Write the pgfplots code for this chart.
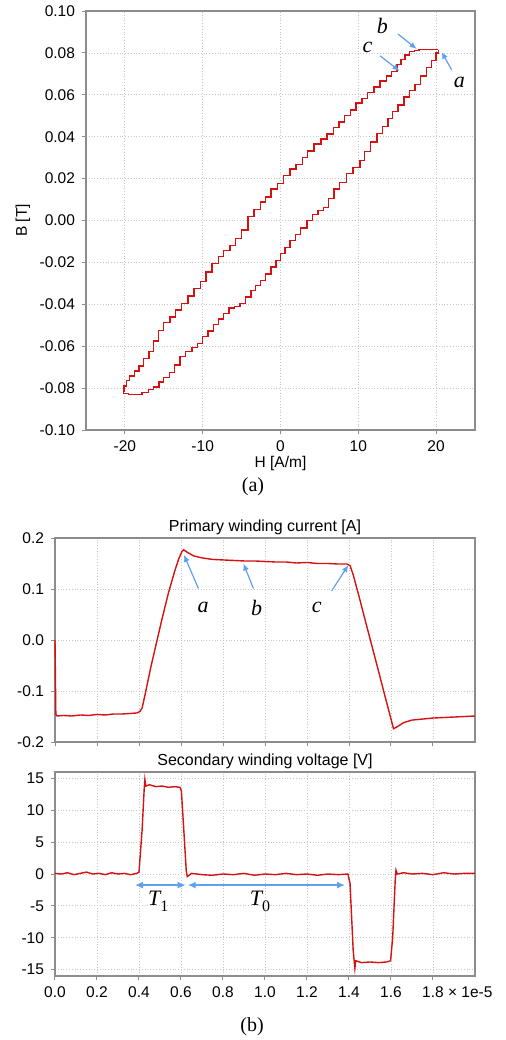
\documentclass[border=0pt]{standalone}
\usepackage{pgfplots}
\pgfplotsset{compat=1.18}
\usepackage{fontspec}
\setmainfont{Liberation Sans}
\newfontfamily\serif{Liberation Serif}
\usetikzlibrary{arrows.meta}

\definecolor{trace}{RGB}{212,18,18}
\definecolor{note}{RGB}{95,160,240}
\definecolor{frame}{RGB}{140,140,140}

\pgfplotsset{
  scopestyle/.style={
    scale only axis,
    axis line style={frame, line width=0.6pt},
    grid=major,
    grid style={densely dotted, gray!45, line width=0.4pt},
    tick style={frame, line width=0.5pt},
    tick align=outside, major tick length=2pt,
    xtick pos=bottom, ytick pos=left,
    tick label style={font=\fontsize{7.75}{9}\selectfont},
    every axis title/.style={at={(0.5,1)}, anchor=center, yshift=5.5pt,
      font=\fontsize{8}{9.5}\selectfont},
  },
}
\tikzset{lbl/.style={font=\serif\itshape\fontsize{11}{12}\selectfont}}

\begin{document}
\begin{tikzpicture}
\useasboundingbox (0,0) rectangle (252.5pt,-520pt);

% (a) B-H loop
\begin{axis}[scopestyle,
  at={(43pt,-5.5pt)}, anchor=north west,
  width=194.5pt, height=209.5pt,
  xmin=-25, xmax=25, ymin=-0.1, ymax=0.1,
  xtick={-20,-10,0,10,20}, xticklabels={-20,-10,0,10,20},
  ytick={-0.1,-0.08,-0.06,-0.04,-0.02,0,0.02,0.04,0.06,0.08,0.1},
  yticklabels={-0.10,-0.08,-0.06,-0.04,-0.02,0.00,0.02,0.04,0.06,0.08,0.10},
  xlabel={H [A/m]}, ylabel={B [T]},
  every axis x label/.style={at={(axis description cs:0.5,-0.079)}, anchor=center,
    font=\fontsize{7.75}{9}\selectfont},
  every axis y label/.style={at={(axis description cs:-0.162,0.5)}, anchor=center,
    rotate=90, font=\fontsize{7.75}{9}\selectfont},
  clip=false]
\addplot[trace, line width=0.7pt, const plot] table {
H B
20.3 0.0815
19.5 0.0816
18.6 0.0815
17.8 0.0812
17.2 0.0806
16.6 0.0790
16.0 0.0768
15.5 0.0745
15.0 0.0712
14.3 0.0690
13.6 0.0665
12.8 0.0638
12.0 0.0610
11.2 0.0582
10.5 0.0560
9.7 0.0528
9.0 0.0502
8.2 0.0470
7.5 0.0445
6.8 0.0412
6.0 0.0390
5.2 0.0365
4.3 0.0332
3.5 0.0300
2.8 0.0268
2.0 0.0245
1.2 0.0215
0.4 0.0178
-0.4 0.0150
-1.2 0.0112
-1.9 0.0088
-2.6 0.0052
-3.4 0.0018
-4.2 -0.0045
-5.0 -0.0085
-5.8 -0.0118
-6.5 -0.0142
-7.3 -0.0172
-8.0 -0.0205
-8.8 -0.0245
-9.6 -0.0290
-10.3 -0.0325
-11.1 -0.0360
-11.9 -0.0395
-12.7 -0.0428
-13.5 -0.0460
-14.2 -0.0488
-15.0 -0.0525
-15.7 -0.0575
-16.3 -0.0625
-16.9 -0.0660
-17.6 -0.0695
-18.2 -0.0718
-18.8 -0.0742
-19.4 -0.0765
-19.8 -0.0790
-20.1 -0.0815
-20.2 -0.0826
-19.5 -0.0830
-18.6 -0.0830
-17.8 -0.0822
-17.0 -0.0808
-16.3 -0.0795
-15.6 -0.0770
-15.0 -0.0748
-14.3 -0.0725
-13.6 -0.0690
-12.9 -0.0650
-12.2 -0.0625
-11.4 -0.0605
-10.7 -0.0586
-10.0 -0.0555
-9.3 -0.0528
-8.6 -0.0495
-8.0 -0.0470
-7.3 -0.0445
-6.6 -0.0418
-5.9 -0.0410
-5.2 -0.0395
-4.5 -0.0365
-3.8 -0.0335
-3.2 -0.0310
-2.6 -0.0286
-1.9 -0.0255
-1.2 -0.0222
-0.6 -0.0190
0.0 -0.0157
0.6 -0.0128
1.2 -0.0095
1.9 -0.0068
2.6 -0.0035
3.4 0.0000
4.1 0.0028
4.8 0.0048
5.5 0.0062
6.2 0.0105
6.9 0.0150
7.6 0.0180
8.5 0.0224
9.3 0.0252
10.2 0.0286
10.8 0.0330
11.6 0.0375
12.4 0.0414
13.1 0.0450
13.8 0.0488
14.4 0.0520
15.1 0.0552
15.9 0.0590
16.6 0.0620
17.3 0.0650
18.0 0.0690
18.8 0.0730
19.4 0.0765
20.0 0.0800
20.3 0.0815
};
\draw[note, line width=0.6pt, -{Latex[length=3.5pt,width=3pt]}] (axis cs:15.1,0.089) -- (axis cs:17.5,0.0819);
\draw[note, line width=0.6pt, -{Latex[length=3.5pt,width=3pt]}] (axis cs:12.8,0.0786) -- (axis cs:15.3,0.0714);
\draw[note, line width=0.6pt, -{Latex[length=3.5pt,width=3pt]}] (axis cs:22.0,0.0719) -- (axis cs:20.7,0.0805);
\node[lbl] at (axis cs:13.1,0.0929) {b};
\node[lbl] at (axis cs:11.2,0.0824) {c};
\node[lbl] at (axis cs:23.0,0.0657) {a};
\end{axis}
\node[font=\serif\fontsize{10}{12}\selectfont] at (126.5pt,-243.5pt) {(a)};

% (b) primary winding current
\begin{axis}[scopestyle,
  at={(27.5pt,-269pt)}, anchor=north west,
  width=210pt, height=102pt,
  xmin=0, xmax=2, ymin=-0.2, ymax=0.2,
  xtick={0,0.2,0.4,0.6,0.8,1.0,1.2,1.4,1.6,1.8}, xticklabels={},
  ytick={-0.2,-0.1,0,0.1,0.2},
  yticklabels={-0.2,-0.1,0.0,0.1,0.2},
  title={Primary winding current [A]},
  clip=false]
\addplot[trace, line width=0.7pt] table {
t I
0.000 0.000
0.004 -0.146
0.010 -0.149
0.04 -0.148
0.08 -0.149
0.12 -0.147
0.16 -0.148
0.20 -0.146
0.24 -0.147
0.28 -0.145
0.32 -0.145
0.36 -0.144
0.39 -0.143
0.405 -0.140
0.415 -0.133
0.43 -0.105
0.457 -0.052
0.484 -0.004
0.51 0.042
0.54 0.092
0.57 0.135
0.59 0.160
0.605 0.174
0.612 0.177
0.63 0.172
0.66 0.165
0.70 0.161
0.75 0.158
0.80 0.157
0.85 0.156
0.90 0.155
0.95 0.155
1.00 0.154
1.05 0.153
1.10 0.153
1.15 0.151
1.20 0.152
1.25 0.150
1.30 0.150
1.35 0.149
1.39 0.149
1.405 0.146
1.42 0.128
1.45 0.082
1.48 0.034
1.51 -0.013
1.54 -0.060
1.57 -0.108
1.60 -0.155
1.612 -0.174
1.63 -0.170
1.66 -0.162
1.70 -0.157
1.75 -0.155
1.80 -0.153
1.85 -0.152
1.90 -0.151
1.95 -0.150
2.00 -0.149
};
\draw[note, line width=0.6pt, -{Latex[length=3.5pt,width=3pt]}] (axis cs:0.683,0.101) -- (axis cs:0.614,0.167);
\draw[note, line width=0.6pt, -{Latex[length=3.5pt,width=3pt]}] (axis cs:0.945,0.101) -- (axis cs:0.897,0.150);
\draw[note, line width=0.6pt, -{Latex[length=3.5pt,width=3pt]}] (axis cs:1.317,0.096) -- (axis cs:1.397,0.147);
\node[lbl] at (axis cs:0.705,0.063) {a};
\node[lbl] at (axis cs:0.96,0.063) {b};
\node[lbl] at (axis cs:1.246,0.063) {c};
\end{axis}

% (b) secondary winding voltage
\begin{axis}[scopestyle,
  at={(27.5pt,-386pt)}, anchor=north west,
  width=210pt, height=102pt,
  xmin=0, xmax=2, ymin=-16, ymax=16,
  xtick={0,0.2,0.4,0.6,0.8,1.0,1.2,1.4,1.6,1.8},
  xticklabels={0.0,0.2,0.4,0.6,0.8,1.0,1.2,1.4,1.6,{1.8\rlap{ × 1e-5}}},
  ytick={-15,-10,-5,0,5,10,15},
  yticklabels={-15,-10,-5,0,5,10,15},
  title={Secondary winding voltage [V]},
  clip=false]
\addplot[trace, line width=0.7pt] table {
t V
0.00 0.1
0.03 0.0
0.06 0.2
0.09 -0.1
0.12 0.1
0.15 0.3
0.18 0.0
0.21 0.1
0.24 -0.1
0.27 0.2
0.30 0.0
0.33 0.1
0.36 -0.1
0.39 0.1
0.40 0.3
0.415 7
0.425 13.5
0.428 14.8
0.432 13.8
0.45 14.0
0.48 13.7
0.51 13.8
0.54 13.6
0.57 13.7
0.595 13.6
0.602 13.0
0.615 6
0.625 0.5
0.63 -0.4
0.65 0.1
0.70 -0.1
0.75 -0.2
0.80 0.0
0.85 -0.1
0.90 0.1
0.95 -0.2
1.00 0.0
1.05 -0.1
1.10 0.1
1.15 -0.1
1.20 0.0
1.25 -0.2
1.30 0.0
1.35 -0.1
1.395 0.0
1.405 -1.5
1.42 -12
1.428 -14.8
1.432 -13.6
1.46 -13.9
1.50 -13.8
1.54 -13.9
1.58 -13.8
1.598 -13.6
1.608 -10
1.62 -1
1.624 0.6
1.63 0.0
1.66 0.2
1.70 0.0
1.75 0.1
1.80 -0.1
1.85 0.2
1.90 0.0
1.95 0.1
2.00 0.1
};
\draw[note, line width=0.7pt, {Latex[length=4pt,width=3.5pt]}-{Latex[length=4pt,width=3.5pt]}] (axis cs:0.381,-1.74) -- (axis cs:0.622,-1.74);
\draw[note, line width=0.7pt, {Latex[length=4pt,width=3.5pt]}-{Latex[length=4pt,width=3.5pt]}] (axis cs:0.632,-1.74) -- (axis cs:1.381,-1.74);
\node[lbl] at (axis cs:0.492,-4.26) {T\raisebox{-0.6ex}{\upshape\fontsize{8}{8}\selectfont 1}};
\node[lbl] at (axis cs:0.976,-4.26) {T\raisebox{-0.6ex}{\upshape\fontsize{8}{8}\selectfont 0}};
\end{axis}
\node[font=\serif\fontsize{10}{12}\selectfont] at (126pt,-513.5pt) {(b)};
\end{tikzpicture}
\end{document}
